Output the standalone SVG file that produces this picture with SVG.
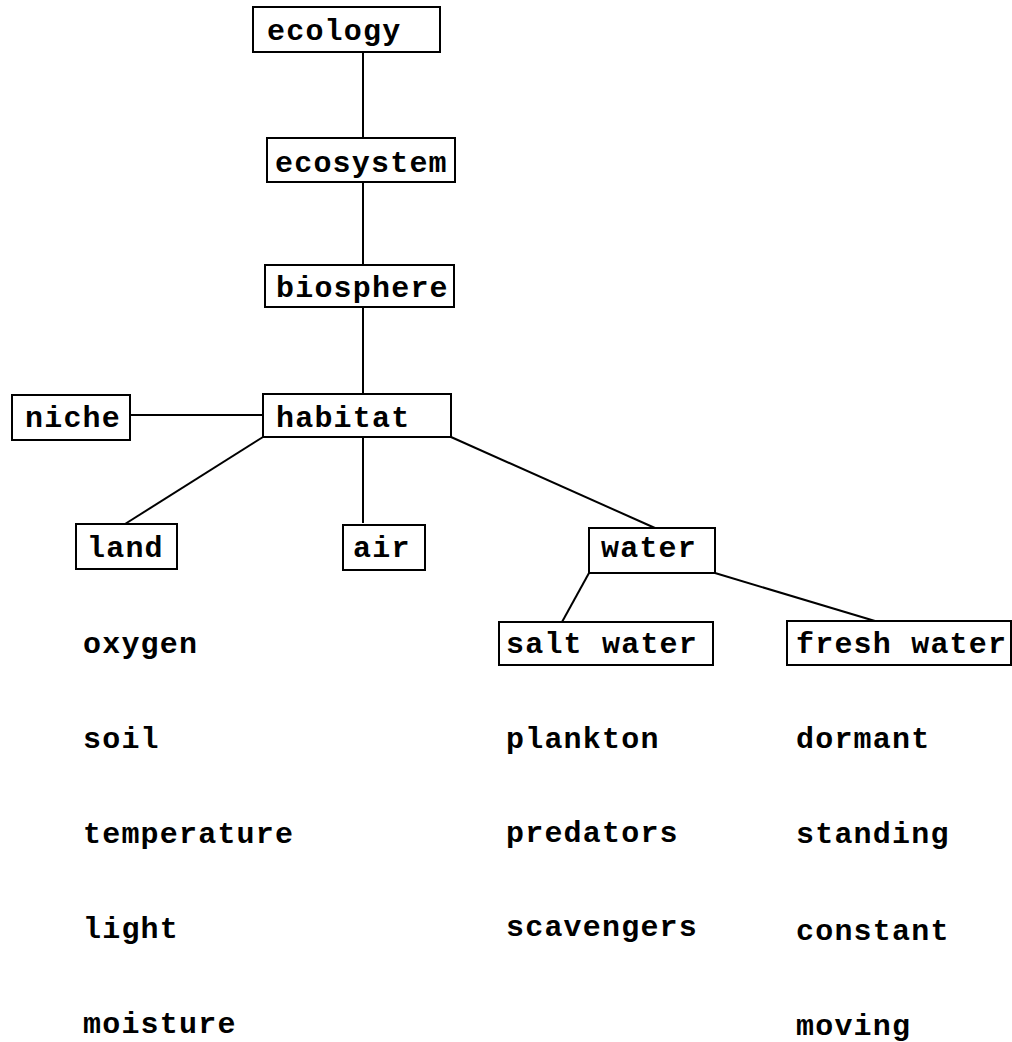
<svg xmlns="http://www.w3.org/2000/svg" width="1012" height="1042" viewBox="0 0 1012 1042">
<style>
  .box { fill: #fff; stroke: #000; stroke-width: 2; }
  .t { font-family: "Liberation Mono", "DejaVu Sans Mono", monospace; font-size: 30px; letter-spacing: 1.2px; fill: #000; font-weight: bold; }
  .edge { stroke: #000; stroke-width: 2; fill: none; }
</style>
<rect width="1012" height="1042" fill="#fff"/>
<g id="connectors">
  <line class="edge" x1="363" y1="52" x2="363" y2="138"/>
  <line class="edge" x1="363" y1="182" x2="363" y2="265"/>
  <line class="edge" x1="363" y1="307" x2="363" y2="394"/>
  <line class="edge" x1="130" y1="415" x2="263" y2="415"/>
  <line class="edge" x1="263" y1="437" x2="125" y2="524"/>
  <line class="edge" x1="363" y1="437" x2="363" y2="523"/>
  <line class="edge" x1="451" y1="437" x2="655" y2="528"/>
  <line class="edge" x1="589" y1="573" x2="562" y2="622"/>
  <line class="edge" x1="715" y1="573" x2="875" y2="621"/>
</g>
<g id="ecology"><rect class="box" x="253" y="7" width="187" height="45"/><text class="t" x="267" y="40">ecology</text></g>
<g id="ecosystem"><rect class="box" x="267" y="138" width="188" height="44"/><text class="t" x="275" y="172">ecosystem</text></g>
<g id="biosphere"><rect class="box" x="265" y="265" width="189" height="42"/><text class="t" x="276" y="297">biosphere</text></g>
<g id="habitat"><rect class="box" x="263" y="394" width="188" height="43"/><text class="t" x="276" y="427">habitat</text></g>
<g id="niche"><rect class="box" x="12" y="395" width="118" height="45"/><text class="t" x="25" y="427">niche</text></g>
<g id="land"><rect class="box" x="76" y="524" width="101" height="45"/><text class="t" x="87" y="557">land</text></g>
<g id="air"><rect class="box" x="343" y="525" width="82" height="45"/><text class="t" x="353" y="557">air</text></g>
<g id="water"><rect class="box" x="589" y="528" width="126" height="45"/><text class="t" x="601" y="557">water</text></g>
<g id="salt-water"><rect class="box" x="499" y="622" width="214" height="43"/><text class="t" x="506" y="653">salt water</text></g>
<g id="fresh-water"><rect class="box" x="787" y="621" width="224" height="44"/><text class="t" x="796" y="653">fresh water</text></g>
<g id="land-list">
  <text class="t" x="83" y="653">oxygen</text>
  <text class="t" x="83" y="748">soil</text>
  <text class="t" x="83" y="843">temperature</text>
  <text class="t" x="83" y="938">light</text>
  <text class="t" x="83" y="1033">moisture</text>
</g>
<g id="salt-list">
  <text class="t" x="506" y="748">plankton</text>
  <text class="t" x="506" y="842">predators</text>
  <text class="t" x="506" y="936">scavengers</text>
</g>
<g id="fresh-list">
  <text class="t" x="796" y="748">dormant</text>
  <text class="t" x="796" y="843">standing</text>
  <text class="t" x="796" y="940">constant</text>
  <text class="t" x="796" y="1035">moving</text>
</g>
</svg>
